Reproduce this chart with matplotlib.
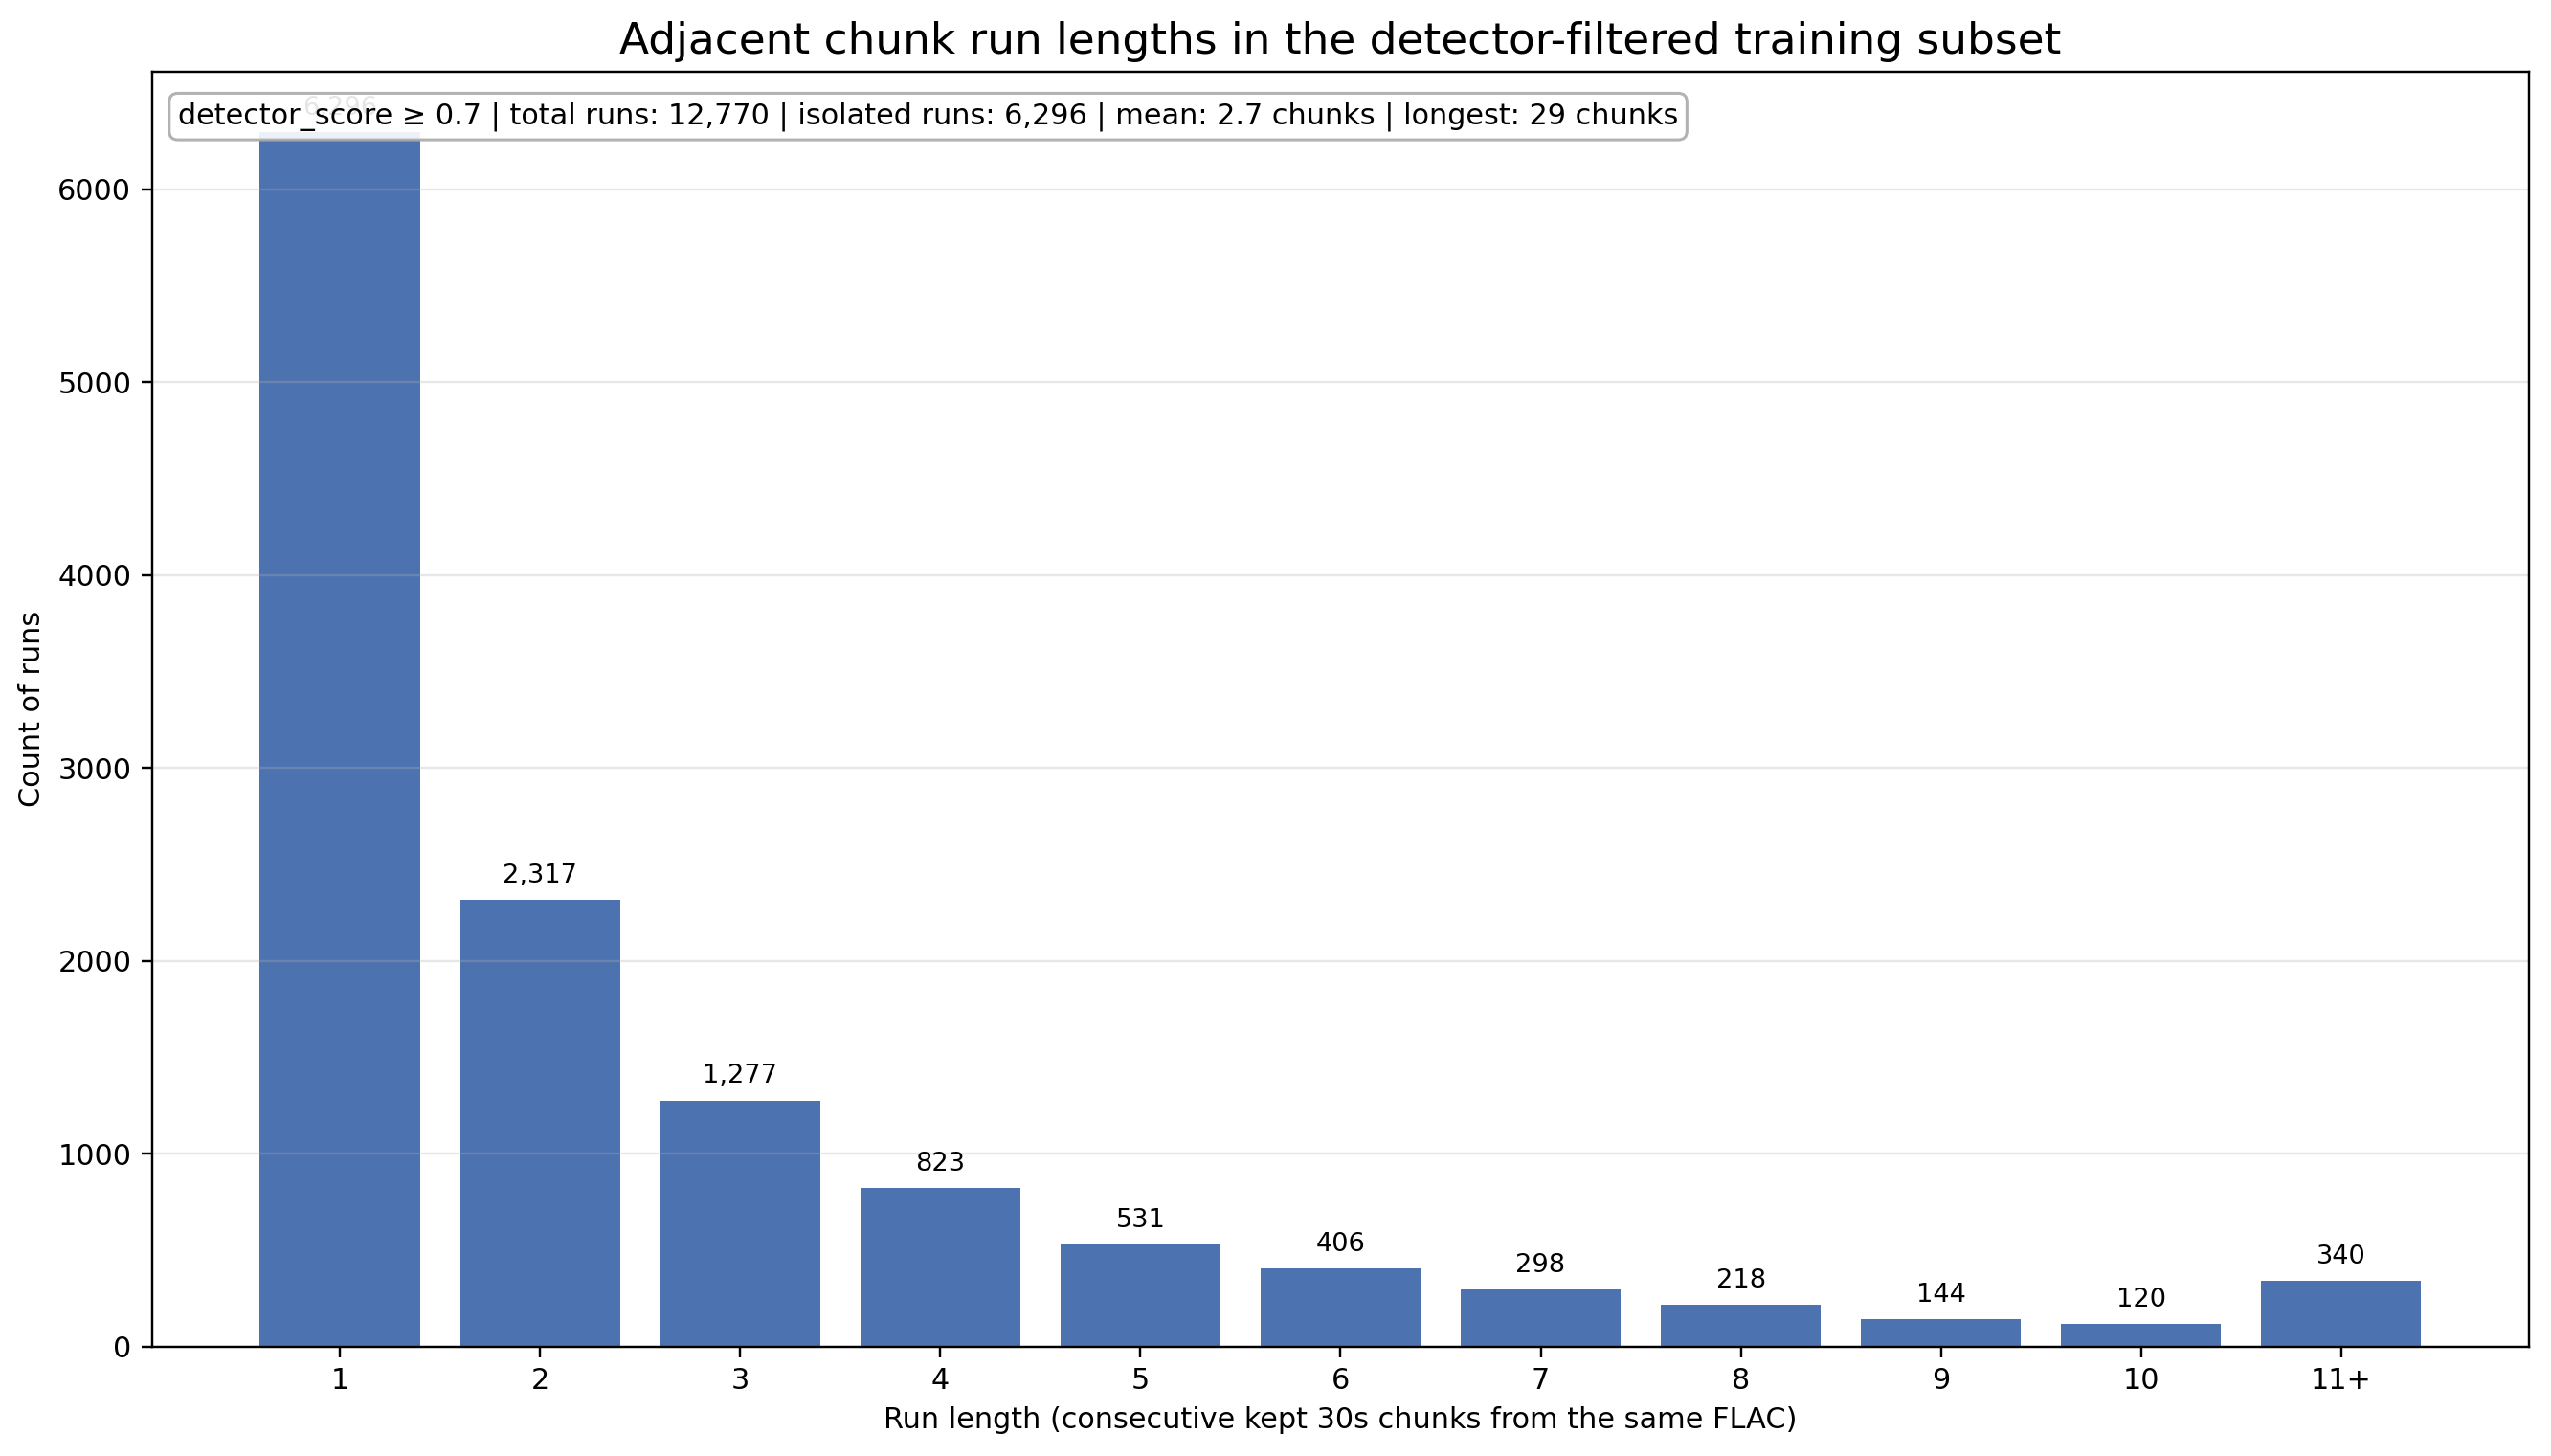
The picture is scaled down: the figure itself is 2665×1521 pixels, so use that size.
import matplotlib
matplotlib.use('Agg')
import matplotlib.pyplot as plt
import numpy as np

run_lengths = ['1', '2', '3', '4', '5', '6', '7', '8', '9', '10', '11+']
run_counts = [6296, 2317, 1277, 823, 531, 406, 298, 218, 144, 120, 340]
stats_text = ('detector_score \u2265 0.7 | total runs: 12,770 | isolated runs: 6,296 | '
              'mean: 2.7 chunks | longest: 29 chunks')

DPI = 218
fig, ax = plt.subplots(figsize=(2665 / DPI, 1521 / DPI), dpi=DPI)
x = np.arange(len(run_lengths))
bars = ax.bar(x, run_counts, width=0.8, color='#4C72B0')

for xi, v in zip(x, run_counts):
    ax.annotate(f'{v:,}', (xi, v), xytext=(0, 4), textcoords='offset points',
                ha='center', va='bottom', fontsize=9)

ax.set_xticks(x)
ax.set_xticklabels(run_lengths)
ax.set_xlabel('Run length (consecutive kept 30s chunks from the same FLAC)', fontsize=10)
ax.set_ylabel('Count of runs', fontsize=10)
ax.set_title('Adjacent chunk run lengths in the detector-filtered training subset', fontsize=15)
ax.grid(axis='y', alpha=0.3)

ax.text(0.011, 0.976, stats_text, transform=ax.transAxes, ha='left', va='top', fontsize=10,
        bbox=dict(boxstyle='round,pad=0.3', facecolor='white', edgecolor='#aaaaaa', alpha=0.9))

fig.subplots_adjust(left=0.0595, right=0.9915, top=0.951, bottom=0.075)
fig.savefig('out.png', dpi=DPI)
